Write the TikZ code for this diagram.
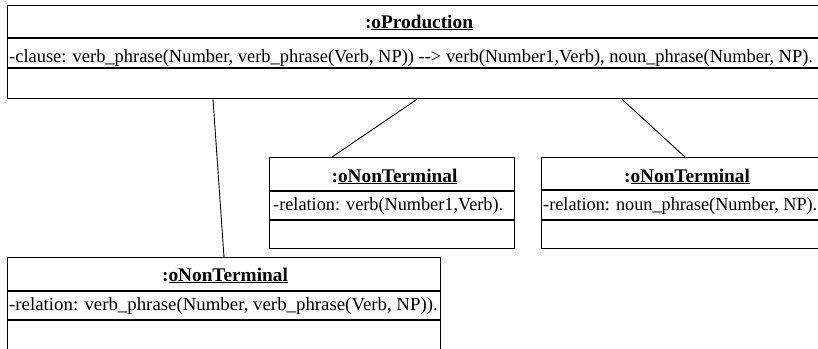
\documentclass[tikz,border=0pt]{standalone}
\usepackage{fontspec}
\setmainfont{Liberation Serif}
\usetikzlibrary{calc}
\tikzset{
  classbox/.style={draw=black, line width=1.3pt, fill=white, anchor=north west, inner sep=0pt},
  divider/.style={draw=black, line width=1.3pt},
  hdr/.style={font=\fontsize{19.3}{21}\selectfont\bfseries, inner sep=0pt, anchor=base},
  attr/.style={font=\fontsize{18.5}{20}\selectfont, inner sep=0pt, anchor=base west},
  link/.style={draw=black, line width=0.9pt}
}
\begin{document}
\begin{tikzpicture}[x=1pt,y=-1pt]
\useasboundingbox (0,0) rectangle (818,348);
% oProduction
\node[classbox, minimum width=820pt, minimum height=93pt] (prod) at (7,5) {};
\draw[divider] (prod.west |- 0,38) -- (prod.east |- 0,38);
\draw[divider] (prod.west |- 0,68) -- (prod.east |- 0,68);
\node[hdr] (prodh) at (419,28) {:\underline{oProduction}};
\node[attr] (proda) at (9,62) {\scalebox{0.997}[1]{-clause: verb\_phrase(Number, verb\_phrase(Verb, NP)) -{}-{}> verb(Number1,Verb), noun\_phrase(Number, NP).}};
% middle
\node[classbox, minimum width=245pt, minimum height=91pt] (nta) at (269,157) {};
\draw[divider] (nta.west |- 0,191) -- (nta.east |- 0,191);
\draw[divider] (nta.west |- 0,220) -- (nta.east |- 0,220);
\node[hdr] (ntah) at (394.5,182) {:\underline{oNonTerminal}};
\node[attr] (ntaa) at (273,210) {\scalebox{0.986}[1]{-relation: verb(Number1,Verb).}};
% right
\node[classbox, minimum width=285pt, minimum height=91pt] (ntb) at (541,157) {};
\draw[divider] (ntb.west |- 0,190) -- (ntb.east |- 0,190);
\draw[divider] (ntb.west |- 0,220) -- (ntb.east |- 0,220);
\node[hdr] (ntbh) at (687,182) {:\underline{oNonTerminal}};
\node[attr] (ntba) at (543,210) {\scalebox{0.985}[1]{-relation: noun\_phrase(Number, NP).}};
% bottom
\node[classbox, minimum width=433pt, minimum height=110pt] (ntc) at (7,257) {};
\draw[divider] (ntc.west |- 0,291) -- (ntc.east |- 0,291);
\draw[divider] (ntc.west |- 0,320) -- (ntc.east |- 0,320);
\node[hdr] (ntch) at (225,281) {:\underline{oNonTerminal}};
\node[attr] (ntca) at (9,310) {\scalebox{1.018}[1]{-relation: verb\_phrase(Number, verb\_phrase(Verb, NP)).}};
% connectors
\coordinate (p1) at (prod.south west -| 213,0);
\coordinate (p2) at (prod.south west -| 417,0);
\coordinate (p3) at (prod.south west -| 622,0);
\draw[link] (p1) -- (ntc.north west -| 224,0);
\draw[link] (p2) -- (nta.north west -| 332,0);
\draw[link] (p3) -- (ntb.north west -| 685,0);
\end{tikzpicture}
\end{document}
